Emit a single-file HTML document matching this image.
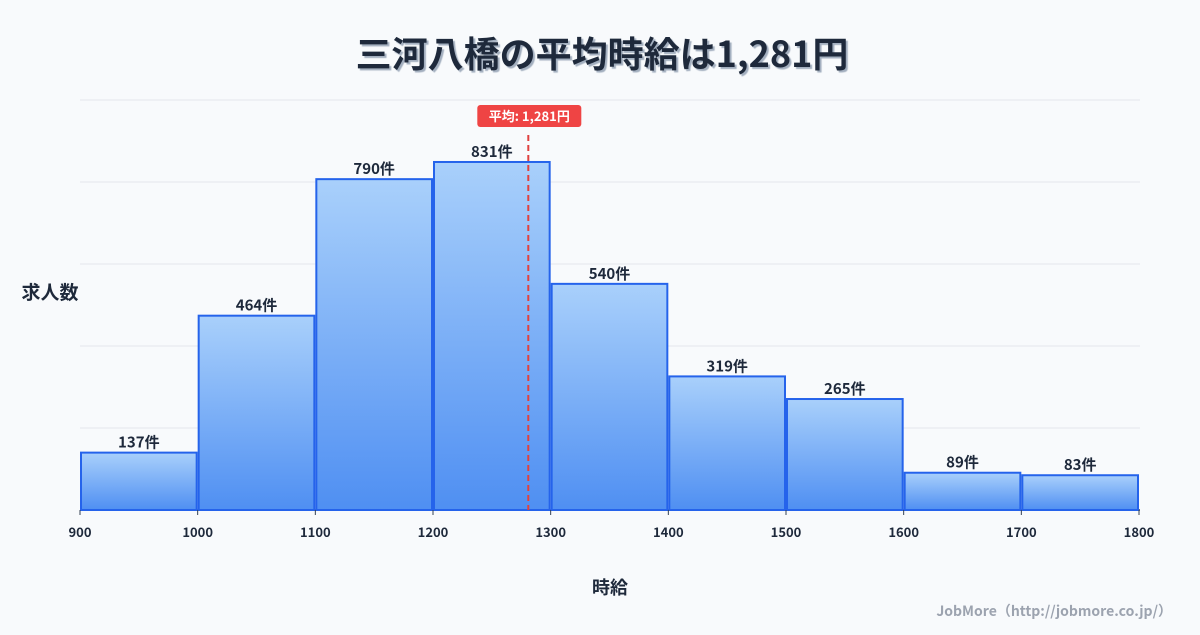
<!DOCTYPE html>
<html><head><meta charset="utf-8"><style>
body{margin:0;background:#f8fafc;width:1200px;height:630px;overflow:hidden}
svg text{font-family:"Noto Sans CJK JP","Liberation Sans",sans-serif}
</style></head><body>
<svg id="c" width="1200" height="630" xmlns="http://www.w3.org/2000/svg">
<defs><linearGradient id="g" x1="0" y1="0" x2="0" y2="1"><stop offset="0" stop-color="#a9d0fb"/><stop offset="1" stop-color="#4f8ff2"/></linearGradient></defs>
<text x="602" y="67" text-anchor="middle" font-size="36" font-weight="bold" fill="#1e293b" style="text-shadow:2px 2px 1px #a3afbf">三河八橋の平均時給は1,281円</text>
<text x="50" y="299" text-anchor="middle" font-size="19" font-weight="bold" fill="#1e293b">求人数</text>
<text x="610" y="594" text-anchor="middle" font-size="18" font-weight="bold" fill="#1e293b">時給</text>
<text x="1172" y="616" text-anchor="end" font-size="14" font-weight="bold" fill="#9ca3af">JobMore（http://jobmore.co.jp/）</text>
<g id="grid"></g><g id="bars"></g><g id="ticks"></g><g id="mean"></g>
</svg>
<script>
const binStarts=[900,1000,1100,1200,1300,1400,1500,1600,1700];
const counts=[137,464,790,831,540,319,265,89,83];
const tickLabels=[900,1000,1100,1200,1300,1400,1500,1600,1700,1800];
const meanValue=1281;
const binWidth=100;
const X0=80,X1=1139,Y0=510,YT=100,xMin=900,xMax=1800,yMax=979;
const ns="http://www.w3.org/2000/svg";
const x=v=>X0+(v-xMin)/(xMax-xMin)*(X1-X0);
const y=v=>Y0-v/yMax*(Y0-YT);
function mk(t,a,p){const e=document.createElementNS(ns,t);for(const k in a)e.setAttribute(k,a[k]);p.appendChild(e);return e;}
const G=document.getElementById('grid');
for(let i=0;i<=5;i++){const yy=Y0-i*(Y0-YT)/5;const l=mk('line',{x1:X0,x2:1140,y1:yy,y2:yy,stroke:i?'#e5e7eb':'#334155','stroke-width':i?1:1.5},G);

}
const B=document.getElementById('bars');
counts.forEach((c,i)=>{const a=x(binStarts[i]),b=x(binStarts[i]+binWidth);
const r=mk('rect',{x:a+1,y:y(c),width:b-a-2,height:Y0-y(c),fill:'url(#g)',stroke:'#2563eb','stroke-width':2},B);


const t=mk('text',{x:(a+b)/2,y:y(c)-5,'text-anchor':'middle','font-size':15,'font-weight':'bold',fill:'#1e293b'},B);t.textContent=c+'件';

});
const T=document.getElementById('ticks');
tickLabels.forEach(v=>{const t=mk('text',{x:x(v),y:537,'text-anchor':'middle','font-size':13,'font-weight':'bold',fill:'#1e293b'},T);t.textContent=v;


const l=mk('line',{x1:x(v),x2:x(v),y1:Y0,y2:Y0+5,stroke:'#334155'},T);

});
const M=document.getElementById('mean');const mx=x(meanValue);
const ml=mk('line',{x1:mx,x2:mx,y1:135,y2:Y0,stroke:'#e0413f','stroke-width':2,'stroke-dasharray':'6,4'},M);


const mr=mk('rect',{x:mx-51,y:105,width:104,height:22,rx:3,fill:'#ef4444'},M);


const mt=mk('text',{x:mx+1,y:121,'text-anchor':'middle','font-size':13,'font-weight':'bold',fill:'#fff'},M);
mt.textContent='平均: '+meanValue.toLocaleString('en-US')+'円';


</script>
</body></html>
